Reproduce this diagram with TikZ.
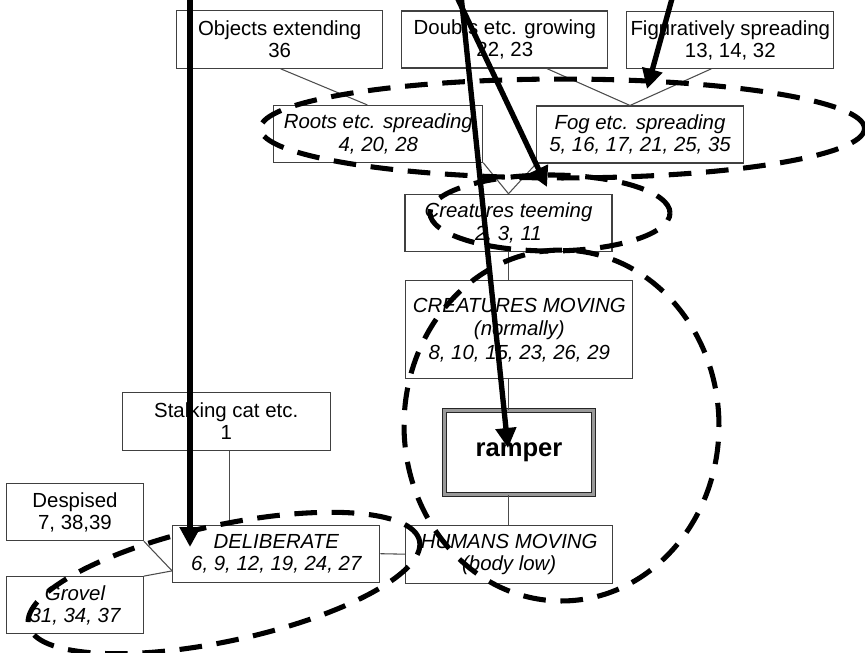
\documentclass[tikz,border=0pt]{standalone}
\usepackage{fontspec}
\setmainfont{Liberation Sans}
\usetikzlibrary{arrows.meta,calc}
\begin{document}
\begin{tikzpicture}[x=0.75pt,y=-0.75pt,
  bx/.style n args={2}{draw=black!75, line width=0.8pt, fill=white, inner sep=0pt,
    align=center, font=\fontsize{15.3}{16.5}\selectfont,
    minimum width=#1*0.75pt, minimum height=#2*0.75pt},
  itbox/.style={font=\fontsize{15.3}{16.8}\selectfont\itshape},
  link/.style={draw=black!70, line width=0.8pt},
  dsh/.style={draw=black, line width=3.8pt, dash pattern=on 17pt off 11pt},
  bigarrow/.style={draw=black, line width=4pt, -{Triangle[length=15pt,width=15pt]}},
  keybox/.style={draw=black!85, line width=1.2pt, double=black!40, double distance=1.6pt,
    font=\fontsize{19.2}{21}\selectfont\bfseries}
]
\useasboundingbox (0,0) rectangle (865,653);

% top row
\node[bx={206}{57.6}] (obj) at (279.7,39.5) {Objects extending\\36};
\node[bx={206.3}{57}] (dou) at (504.8,39.5) {Doubts etc. growing\\22, 23};
\node[bx={207.3}{56.6}] (fig) at (730.3,40) {Figuratively spreading\\13, 14, 32};
% second row
\node[bx={208.7}{56.7},itbox] (roots) at (378.3,133.8) {Roots etc. spreading\\4, 20, 28};
\node[bx={206.5}{57},itbox] (fog) at (640,134.5) {Fog etc. spreading\\5, 16, 17, 21, 25, 35};
% center column
\node[bx={207}{57.4},itbox] (ct) at (508.5,223) {Creatures teeming\\2, 3, 11};
\node[bx={227.3}{98.3},itbox,font=\fontsize{15.3}{17.6}\selectfont\itshape] (cm) at (519.3,329.8) {CREATURES MOVING\\(normally)\\8, 10, 15, 23, 26, 29};
\node[bx={149}{84},keybox] (ramper) at (519,452.5) {ramper};
\node[bx={207}{58.3},itbox] (hum) at (509.2,554.2) {HUMANS MOVING\\(body low)};
% left side
\node[bx={207.3}{57.3},itbox] (del) at (276.3,553.7) {DELIBERATE\\6, 9, 12, 19, 24, 27};
\node[bx={207.7}{58.4}] (stalk) at (226.2,421.5) {Stalking cat etc.\\1};
\node[bx={136.6}{56.7}] (desp) at (75,512.3) {Despised\\7, 38,39};
\node[bx={136.6}{57.3},itbox] (grov) at (75,605.3) {Grovel\\31, 34, 37};

% thin connectors
\draw[link] ($(obj.south)+(1,0)$) -- ($(roots.north)+(-11,0)$);
\draw[link] ($(dou.south)+(42,0)$) -- ($(fog.north)+(-10,0)$);
\draw[link] ($(fig.south)+(-19,0)$) -- ($(fog.north)+(-10,0)$);
\draw[link] (roots.south east) -- (ct.north);
\draw[link] (fog.south west) -- (ct.north);
\draw[link] (ct.south) -- (ct.south |- cm.north);
\draw[link] (ct.south |- cm.south) -- (ct.south |- ramper.north);
\draw[link] (ct.south |- ramper.south) -- (ct.south |- hum.north);
\draw[link] (del.east) -- (hum.west);
\draw[link] ($(stalk.south)+(3,0)$) -- ($(stalk.south |- del.north)+(3,0)$);
\coordinate (djoin) at ($(del.south west)+(0,-12)$);
\draw[link] (desp.south east) -- (djoin);
\draw[link] (grov.north east) -- (djoin);

% dashed ellipses
\draw[dsh] (562.5,128.5) ellipse [x radius=226.5pt, y radius=37.1pt];
\draw[dsh] (550,213) ellipse [x radius=90pt, y radius=28.5pt];
\draw[dsh] (561.5,425.5) ellipse [x radius=118.1pt, y radius=131.6pt];
\draw[dsh, rotate around={12.2:(224,583)}] (224,583) ellipse [x radius=150pt, y radius=43.5pt];

% thick arrows
\coordinate (a1s) at (190,-5);
\coordinate (a1e) at (190,547);
\coordinate (a2s) at (456,-5);
\coordinate (a2e) at (547,187);
\coordinate (a3s) at (461,-5);
\coordinate (a3e) at (508,448);
\coordinate (a4s) at (673,-5);
\coordinate (a4e) at (647,89);
\draw[bigarrow] (a1s) -- (a1e);
\draw[bigarrow] (a2s) -- (a2e);
\draw[bigarrow] (a3s) -- (a3e);
\draw[bigarrow] (a4s) -- (a4e);
\end{tikzpicture}
\end{document}
